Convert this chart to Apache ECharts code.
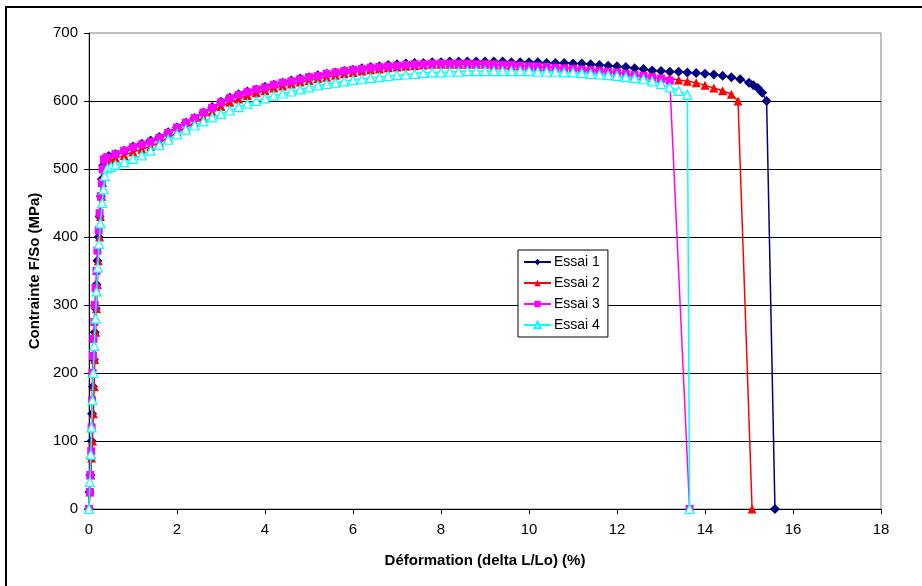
<!DOCTYPE html>
<html>
<head>
<meta charset="utf-8">
<script src="https://cdn.jsdelivr.net/npm/echarts@6/dist/echarts.min.js"></script>
<style>
html,body{margin:0;padding:0;background:#fff;}
#chart{width:922px;height:586px;}
</style>
</head>
<body>
<div id="chart"></div>
<script>
// ---- Data (strain %, stress MPa) ----
const seriesNames = ['Essai 1', 'Essai 2', 'Essai 3', 'Essai 4'];
const xTicks = [0, 2, 4, 6, 8, 10, 12, 14, 16, 18];
const yTicks = [0, 100, 200, 300, 400, 500, 600, 700];

const essai1 = [[0,0],[0.01,25],[0.03,50],[0.04,75],[0.06,100],[0.07,140],[0.09,180],[0.11,220],[0.13,260],[0.15,295],[0.17,330],
[0.19,365],[0.22,400],[0.24,430],[0.27,460],[0.29,485],[0.32,505],[0.36,516],[0.45,519],
[0.6,522],[0.8,527],[1.0,533],[1.2,537],[1.4,542],[1.6,547],[1.8,554],[2.0,561],[2.2,568],[2.4,575],[2.6,583],[2.8,591],
[3.0,599],[3.2,605],[3.4,610],[3.6,614],[3.8,617],[4.0,621],[4.2,624],[4.4,627],[4.6,630],[4.8,633],[5.0,635],[5.2,638],
[5.4,640],[5.6,642],[5.8,644],[6.0,646],[6.2,648],[6.4,650],[6.6,651],[6.8,653],[7.0,654],[7.2,655],[7.4,656],[7.6,656],
[7.8,657],[8.0,657],[8.2,658],[8.4,658],[8.6,658],[8.8,658],[9.0,658],[9.2,658],[9.4,658],[9.6,657],[9.8,657],[10.0,657],
[10.2,657],[10.4,656],[10.6,656],[10.8,656],[11.0,655],[11.2,655],[11.4,654],[11.6,653],[11.8,652],[12.0,651],[12.2,650],
[12.4,648],[12.6,647],[12.8,645],[13.0,644],[13.2,643],[13.4,643],[13.6,642],[13.8,641],[14.0,640],[14.2,639],[14.4,637],
[14.6,635],[14.8,632],[15.0,627],[15.1,623],[15.2,619],[15.3,612],[15.4,600],[15.59,0]];

const essai2 = [[0,0],[0.02,25],[0.04,50],[0.06,75],[0.08,100],[0.1,140],[0.12,180],[0.13,220],[0.15,260],[0.17,295],[0.19,330],
[0.21,365],[0.24,400],[0.26,430],[0.29,460],[0.31,480],[0.33,500],[0.38,510],[0.47,513],
[0.6,516],[0.8,520],[1.0,525],[1.2,529],[1.4,533],[1.6,539],[1.8,546],[2.0,554],[2.2,561],[2.4,568],[2.6,576],[2.8,584],
[3.0,592],[3.2,598],[3.4,603],[3.6,608],[3.8,612],[4.0,615],[4.2,619],[4.4,622],[4.6,625],[4.8,628],[5.0,630],[5.2,633],
[5.4,635],[5.6,638],[5.8,640],[6.0,642],[6.2,644],[6.4,646],[6.6,647],[6.8,649],[7.0,650],[7.2,651],[7.4,652],[7.6,653],
[7.8,654],[8.0,654],[8.2,654],[8.4,654],[8.6,654],[8.8,654],[9.0,654],[9.2,653],[9.4,653],[9.6,652],[9.8,652],[10.0,651],
[10.2,650],[10.4,650],[10.6,649],[10.8,648],[11.0,648],[11.2,647],[11.4,646],[11.6,645],[11.8,643],[12.0,642],[12.2,640],
[12.4,638],[12.6,637],[12.8,635],[13.0,634],[13.2,633],[13.4,631],[13.6,629],[13.8,627],[14.0,623],[14.2,619],[14.4,615],
[14.6,610],[14.75,600],[15.07,0]];

const essai3 = [[0,0],[0.02,25],[0.03,50],[0.05,85],[0.06,120],[0.07,160],[0.08,200],[0.09,225],[0.1,250],[0.12,275],[0.13,300],
[0.15,325],[0.17,350],[0.19,380],[0.22,410],[0.24,435],[0.27,460],[0.29,480],[0.31,500],[0.34,514],
[0.4,517],[0.6,522],[0.8,527],[1.0,532],[1.2,536],[1.4,540],[1.6,546],[1.8,553],[2.0,561],[2.2,568],[2.4,575],[2.6,583],
[2.8,590],[3.0,598],[3.2,604],[3.4,609],[3.6,613],[3.8,617],[4.0,620],[4.2,624],[4.4,627],[4.6,629],[4.8,632],[5.0,635],
[5.2,637],[5.4,640],[5.6,642],[5.8,644],[6.0,646],[6.2,647],[6.4,649],[6.6,650],[6.8,651],[7.0,652],[7.2,653],[7.4,654],
[7.6,654],[7.8,655],[8.0,655],[8.2,655],[8.4,655],[8.6,655],[8.8,654],[9.0,654],[9.2,654],[9.4,653],[9.6,653],[9.8,652],
[10.0,651],[10.2,651],[10.4,650],[10.6,649],[10.8,648],[11.0,647],[11.2,646],[11.4,645],[11.6,644],[11.8,643],[12.0,642],
[12.2,640],[12.4,638],[12.6,637],[12.8,635],[13.0,633],[13.2,630],[13.65,0]];

const essai4 = [[0,0],[0.02,40],[0.04,80],[0.06,120],[0.08,160],[0.1,200],[0.12,240],[0.15,280],[0.17,320],[0.2,355],[0.23,390],
[0.26,420],[0.3,450],[0.33,470],[0.36,490],[0.42,501],[0.5,503],
[0.6,506],[0.8,510],[1.0,515],[1.2,520],[1.4,527],[1.6,535],[1.8,543],[2.0,551],[2.2,558],[2.4,564],[2.6,570],[2.8,576],
[3.0,581],[3.2,586],[3.4,591],[3.6,596],[3.8,600],[4.0,604],[4.2,608],[4.4,611],[4.6,614],[4.8,617],[5.0,620],[5.2,623],
[5.4,625],[5.6,627],[5.8,629],[6.0,631],[6.2,632],[6.4,634],[6.6,635],[6.8,637],[7.0,638],[7.2,639],[7.4,640],[7.6,641],
[7.8,642],[8.0,642],[8.2,643],[8.4,643],[8.6,644],[8.8,644],[9.0,644],[9.2,644],[9.4,644],[9.6,644],[9.8,644],[10.0,644],
[10.2,643],[10.4,643],[10.6,643],[10.8,642],[11.0,642],[11.2,641],[11.4,640],[11.6,639],[11.8,638],[12.0,637],[12.2,635],
[12.4,634],[12.6,632],[12.8,629],[13.0,625],[13.2,620],[13.4,615],[13.6,609],[13.65,0]];

const seriesData = [essai1, essai2, essai3, essai4];
const colors = ['#000080', '#FF0000', '#FF00FF', '#00FFFF'];
const symbols = ['diamond', 'triangle', 'rect', 'triangle'];
const symbolSizes = [10, 9, 8, 9];

const chart = echarts.init(document.getElementById('chart'), null, {renderer: 'canvas'});
const FONT = '"Liberation Sans", Arial, sans-serif';

const series = seriesNames.map((name, i) => ({
  name: name,
  type: 'line',
  data: seriesData[i],
  symbol: symbols[i],
  symbolSize: symbolSizes[i],
  showAllSymbol: true,
  animation: false,
  z: 2 + i,
  lineStyle: {color: colors[i], width: 1.5},
  itemStyle: i === 3
    ? {color: '#FFFFFF', borderColor: colors[i], borderWidth: 1.2}
    : {color: colors[i], borderColor: colors[i], borderWidth: 0}
}));

chart.setOption({
  backgroundColor: '#FFFFFF',
  animation: false,
  textStyle: {fontFamily: FONT},
  grid: {left: 89, right: 41, top: 33, bottom: 77, show: true, borderColor: '#808080', borderWidth: 1, backgroundColor: 'transparent'},
  xAxis: {
    type: 'value', min: xTicks[0], max: xTicks[xTicks.length - 1], interval: 2,
    name: 'Déformation (delta L/Lo) (%)', nameLocation: 'middle', nameGap: 44,
    nameTextStyle: {fontFamily: FONT, fontSize: 15, fontWeight: 'bold', color: '#000'},
    axisLine: {show: true, lineStyle: {color: '#000', width: 1}},
    axisTick: {show: true, length: 5, lineStyle: {color: '#000'}},
    axisLabel: {fontFamily: FONT, fontSize: 15, color: '#000', margin: 13},
    splitLine: {show: false}
  },
  yAxis: {
    type: 'value', min: yTicks[0], max: yTicks[yTicks.length - 1], interval: 100,
    name: 'Contrainte F/So (MPa)', nameLocation: 'middle', nameGap: 46, nameRotate: 90,
    nameTextStyle: {fontFamily: FONT, fontSize: 15, fontWeight: 'bold', color: '#000'},
    axisLine: {show: true, lineStyle: {color: '#000', width: 1}},
    axisTick: {show: true, length: 5, lineStyle: {color: '#000'}},
    axisLabel: {fontFamily: FONT, fontSize: 15, color: '#000', margin: 11},
    splitLine: {show: true, showMaxLine: false, lineStyle: {color: '#000', width: 1}}
  },
  legend: {
    orient: 'vertical', left: 518, top: 250, width: 90,
    padding: [5, 8, 5, 5], itemGap: 7, itemWidth: 27, itemHeight: 8,
    backgroundColor: '#FFFFFF', borderColor: '#000', borderWidth: 1,
    textStyle: {fontFamily: FONT, fontSize: 14, color: '#000', padding: [0, 0, 0, -2]},
    data: seriesNames
  },
  graphic: [{
    type: 'rect', shape: {x: 6, y: 7, width: 1000, height: 1000},
    style: {fill: 'none', stroke: '#000', lineWidth: 2}, silent: true, z: 100
  }],
  series: series
});
</script>
</body>
</html>
